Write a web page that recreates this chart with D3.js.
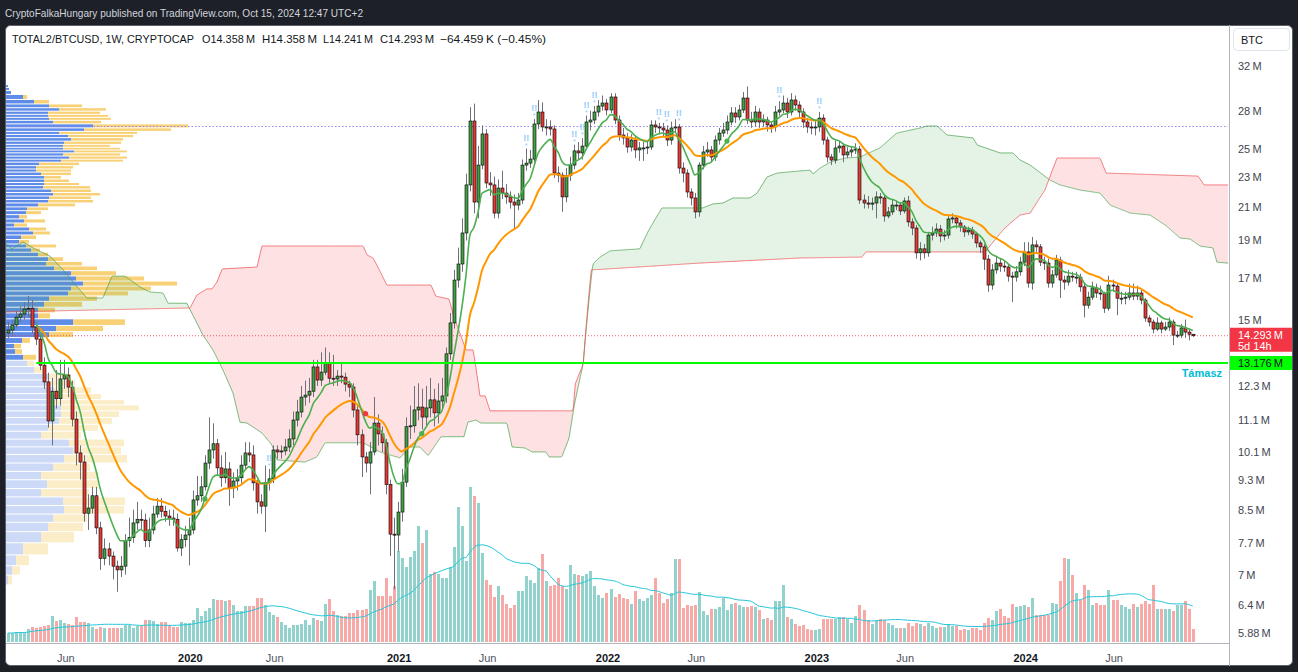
<!DOCTYPE html>
<html lang="en">
<head>
<meta charset="UTF-8">
<title>TOTAL2/BTCUSD, 1W</title>
<script src="https://cdn.jsdelivr.net/npm/d3@7"></script>
<style>
  body { margin: 0; background: #1e2028; }
  svg { display: block; font-family: "Liberation Sans", Arial, sans-serif; }
</style>
</head>
<body>
<svg id="chart" width="1298" height="672"></svg>
<script>
// weekly bars, prices in millions (M)
const firstWeek = "2019-02-18";
const firstOpen = 14.41;
const closes = [
  14.54, 14.76, 15.11, 15.25, 15.48, 15.52, 14.67, 14.15, 13.09, 12.45,
  11.08, 12.11, 11.84, 12.56, 12.71, 12.26, 11.14, 10.07, 9.80, 8.41,
  8.54, 8.86, 8.05, 7.35, 7.56, 7.40, 7.18, 7.10, 7.18, 7.75,
  7.82, 8.17, 8.26, 8.24, 7.75, 8.00, 8.39, 8.59, 8.46, 8.34,
  8.29, 8.26, 7.58, 7.77, 7.88, 8.00, 8.75, 8.86, 9.10, 9.77,
  10.16, 10.35, 9.63, 9.35, 9.60, 9.07, 9.26, 9.35, 9.71, 10.07,
  10.01, 9.21, 8.70, 8.59, 9.21, 9.32, 10.16, 10.10, 10.13, 10.25,
  10.50, 11.11, 11.38, 11.90, 11.97, 12.11, 13.02, 12.52, 12.82, 13.17,
  12.59, 12.56, 12.67, 12.63, 12.37, 12.26, 11.45, 10.63, 9.95, 9.77,
  10.10, 11.01, 10.66, 10.38, 9.16, 7.90, 7.88, 8.44, 9.23, 10.89,
  10.92, 11.45, 11.55, 11.21, 11.52, 11.80, 11.35, 11.76, 11.94, 13.54,
  14.85, 16.88, 17.71, 19.43, 22.43, 27.15, 21.31, 23.80, 26.12, 22.56,
  22.43, 20.62, 22.22, 21.89, 21.64, 21.31, 21.12, 21.44, 23.80, 23.94,
  24.23, 26.91, 27.89, 26.67, 26.67, 26.51, 23.24, 23.10, 21.64, 23.06,
  23.80, 24.83, 24.68, 25.19, 27.07, 27.23, 27.89, 28.39, 28.65, 28.06,
  29.17, 27.23, 26.04, 25.81, 25.12, 25.65, 24.90, 25.05, 25.05, 25.12,
  26.83, 26.67, 26.59, 26.43, 25.65, 26.59, 26.67, 23.59, 23.24, 21.96,
  21.57, 20.69, 23.80, 24.75, 24.90, 24.38, 25.65, 26.19, 26.43, 27.07,
  27.81, 27.48, 28.06, 29.08, 27.23, 27.07, 27.89, 27.07, 27.23, 26.83,
  26.67, 27.89, 28.06, 28.65, 27.89, 28.91, 28.48, 27.89, 27.07, 26.67,
  26.59, 26.67, 27.39, 25.65, 24.38, 24.16, 25.05, 25.19, 24.53, 24.75,
  24.90, 24.97, 21.44, 21.25, 21.18, 21.25, 21.64, 21.57, 20.44, 20.69,
  21.12, 21.12, 20.75, 21.38, 20.08, 19.72, 18.31, 18.53, 18.31, 19.31,
  19.43, 19.66, 19.26, 19.31, 20.26, 20.32, 20.02, 19.78, 19.49, 19.60,
  19.37, 18.86, 18.64, 17.97, 16.63, 17.40, 17.76, 17.60, 17.55, 17.08,
  17.03, 17.30, 17.81, 18.36, 16.73, 18.75, 18.64, 17.81, 17.76, 16.73,
  17.14, 17.92, 16.88, 16.78, 17.08, 17.03, 17.03, 16.54, 15.66, 16.04,
  16.49, 16.24, 16.20, 15.52, 16.63, 16.58, 15.99, 15.99, 16.04, 16.24,
  16.09, 16.24, 15.90, 15.07, 14.89, 14.58, 14.85, 14.58, 14.67, 14.89,
  14.32, 14.32, 14.63, 14.45, 14.358, 14.293
];
const highs = [
  14.9, 15.0, 15.4, 15.6, 15.8, 16.1, 15.9, 14.9, 14.4, 13.4,
  12.8, 12.6, 12.9, 13.3, 13.3, 13.0, 12.5, 11.4, 10.3, 10.0,
  8.9, 9.1, 9.1, 8.2, 7.8, 7.7, 7.5, 7.3, 7.4, 7.9,
  8.3, 8.5, 8.7, 8.5, 8.4, 8.3, 8.6, 8.8, 8.8, 8.6,
  8.5, 8.5, 8.4, 7.9, 8.1, 8.3, 9.0, 9.4, 9.4, 10.0,
  11.2, 11.0, 10.5, 10.0, 10.1, 9.8, 9.5, 9.6, 10.0, 10.4,
  10.4, 10.3, 9.3, 8.9, 9.7, 9.6, 10.3, 10.3, 10.3, 10.5,
  10.8, 11.4, 11.8, 12.3, 12.5, 12.6, 13.3, 13.3, 13.6, 13.8,
  13.6, 13.5, 12.9, 13.2, 12.8, 12.5, 12.4, 11.6, 10.8, 10.1,
  10.4, 11.9, 11.3, 10.9, 10.5, 9.3, 8.3, 8.7, 9.6, 11.2,
  11.6, 12.3, 12.4, 12.2, 12.3, 12.6, 12.2, 12.4, 12.6, 13.8,
  15.3, 17.4, 18.6, 20.3, 23.2, 28.3, 28.6, 25.2, 26.8, 26.5,
  23.3, 23.0, 22.8, 23.4, 22.5, 22.0, 21.8, 21.9, 24.2, 25.0,
  24.9, 27.3, 28.9, 28.7, 27.3, 27.2, 26.8, 23.7, 23.3, 23.6,
  24.4, 25.3, 25.5, 25.8, 27.6, 28.0, 28.4, 28.9, 29.3, 29.0,
  29.5, 29.5, 27.6, 26.6, 26.2, 26.1, 25.9, 25.5, 25.5, 25.5,
  27.2, 27.2, 27.0, 27.0, 26.8, 27.1, 27.3, 26.9, 24.0, 23.5,
  22.2, 21.9, 24.0, 25.2, 25.5, 25.2, 26.0, 26.6, 27.0, 27.6,
  28.3, 28.3, 28.5, 29.6, 30.1, 27.9, 28.4, 28.2, 27.7, 27.5,
  27.1, 28.4, 28.8, 29.3, 29.1, 29.5, 29.3, 28.8, 28.2, 27.4,
  27.1, 27.2, 27.9, 27.7, 25.9, 24.6, 25.6, 25.6, 25.4, 25.1,
  25.2, 25.4, 25.2, 21.8, 21.7, 21.6, 22.0, 21.9, 21.8, 21.0,
  21.5, 21.4, 21.3, 21.6, 21.7, 20.3, 19.9, 18.9, 18.8, 19.5,
  19.8, 20.0, 19.9, 19.6, 20.5, 20.6, 20.4, 20.2, 19.9, 19.8,
  19.8, 19.5, 19.0, 18.8, 18.2, 17.7, 18.1, 18.0, 17.9, 17.7,
  17.3, 17.6, 18.1, 18.9, 18.9, 19.2, 19.0, 18.8, 18.1, 18.0,
  17.4, 18.2, 18.1, 17.1, 17.4, 17.3, 17.3, 17.2, 16.7, 16.3,
  16.8, 16.7, 16.6, 16.3, 17.1, 16.9, 16.7, 16.3, 16.3, 16.7,
  16.7, 16.6, 16.4, 16.0, 15.2, 15.0, 15.1, 14.95, 14.9, 15.1,
  15.0, 14.5, 14.8, 15.0, 14.6, 14.358
];
const lows = [
  14.2, 14.3, 14.6, 14.9, 15.0, 15.1, 14.4, 13.9, 12.9, 12.2,
  10.86, 10.3, 11.5, 11.6, 12.2, 11.9, 10.9, 9.7, 9.3, 8.2,
  8.0, 8.4, 7.9, 7.1, 7.2, 7.2, 6.9, 6.65, 6.95, 7.0,
  7.6, 7.7, 8.0, 8.0, 7.6, 7.6, 7.9, 8.3, 8.3, 8.2,
  8.1, 8.1, 7.5, 7.4, 7.6, 7.2, 7.9, 8.6, 8.7, 9.0,
  9.6, 9.9, 9.4, 9.1, 9.2, 8.6, 8.8, 9.0, 9.2, 9.6,
  9.8, 9.0, 8.4, 8.4, 7.95, 9.0, 9.2, 9.9, 9.9, 10.0,
  10.1, 10.3, 10.9, 11.2, 11.6, 11.7, 11.9, 12.3, 12.3, 12.7,
  12.4, 12.3, 12.3, 12.4, 12.1, 11.9, 11.2, 10.3, 9.37, 9.5,
  8.9, 10.0, 10.3, 10.1, 8.9, 7.4, 6.7, 7.5, 8.2, 9.1,
  10.5, 10.7, 11.1, 10.8, 10.9, 11.2, 10.9, 11.0, 11.5, 11.7,
  13.3, 14.6, 16.5, 17.3, 19.0, 22.0, 20.6, 20.3, 23.5, 22.2,
  21.7, 20.3, 20.3, 21.5, 21.2, 20.9, 19.7, 20.8, 21.2, 23.4,
  23.6, 24.0, 26.5, 26.3, 26.0, 26.0, 22.9, 22.6, 20.7, 21.3,
  22.7, 23.5, 24.2, 24.2, 24.9, 26.4, 26.9, 27.5, 28.0, 27.6,
  27.8, 26.9, 25.6, 25.3, 24.7, 24.8, 24.3, 24.1, 24.1, 24.6,
  24.9, 26.2, 26.1, 25.9, 25.2, 25.3, 26.2, 23.2, 22.6, 21.6,
  21.1, 20.3, 20.4, 23.5, 24.4, 24.0, 24.1, 25.3, 25.9, 26.1,
  26.8, 27.0, 27.2, 27.8, 26.9, 26.6, 26.7, 26.6, 26.7, 26.3,
  26.2, 26.3, 27.6, 27.8, 27.4, 27.6, 28.0, 27.4, 26.6, 26.2,
  26.1, 26.0, 26.3, 25.3, 24.0, 23.8, 23.9, 24.7, 24.0, 24.3,
  24.4, 24.6, 21.2, 20.9, 20.9, 20.8, 20.3, 21.2, 20.1, 20.3,
  20.5, 20.8, 20.5, 20.6, 19.8, 19.3, 18.0, 17.9, 18.0, 18.1,
  19.0, 19.2, 18.9, 19.0, 19.1, 20.0, 19.7, 19.5, 19.2, 19.3,
  19.1, 18.6, 18.3, 17.4, 16.3, 16.4, 17.2, 17.3, 17.3, 16.8,
  15.8, 16.8, 17.1, 17.6, 16.5, 16.4, 18.3, 17.6, 17.4, 16.5,
  16.5, 17.0, 16.0, 16.4, 16.6, 16.8, 16.7, 16.3, 15.1, 15.5,
  15.9, 16.0, 15.9, 15.3, 15.4, 16.3, 15.2, 15.7, 15.7, 15.9,
  15.9, 15.9, 15.7, 14.9, 14.7, 14.4, 14.5, 14.4, 14.5, 14.5,
  13.9, 14.2, 14.2, 14.2, 14.1, 14.241
];
// weekly volume, arbitrary units
const volumes = [
  9, 9, 10, 10, 9, 13, 15, 14, 15, 16,
  17, 26, 21, 22, 19, 18, 17, 25, 20, 20,
  19, 15, 13, 15, 14, 14, 14, 14, 14, 17,
  17, 14, 16, 16, 22, 22, 21, 18, 20, 20,
  17, 15, 15, 20, 19, 19, 22, 34, 26, 31,
  34, 43, 42, 42, 41, 42, 37, 31, 31, 36,
  36, 36, 44, 44, 37, 30, 27, 25, 20, 17,
  14, 17, 17, 18, 22, 17, 24, 22, 21, 38,
  43, 31, 27, 26, 26, 29, 29, 32, 32, 33,
  52, 61, 46, 46, 64, 46, 56, 91, 84, 75,
  85, 91, 116, 99, 112, 68, 70, 68, 64, 64,
  75, 95, 135, 116, 81, 155, 146, 139, 89, 62,
  57, 45, 56, 47, 38, 34, 37, 51, 51, 66,
  62, 59, 74, 88, 61, 56, 57, 64, 56, 53,
  77, 68, 67, 66, 68, 71, 56, 47, 44, 49,
  53, 45, 48, 44, 43, 38, 51, 43, 41, 44,
  47, 64, 49, 39, 43, 49, 83, 83, 34, 37,
  36, 37, 50, 31, 27, 33, 33, 35, 44, 32,
  38, 39, 37, 35, 35, 36, 35, 32, 23, 24,
  22, 41, 41, 57, 25, 23, 18, 16, 17, 13,
  12, 12, 13, 23, 23, 23, 23, 25, 25, 23,
  19, 26, 37, 32, 22, 18, 22, 23, 22, 19,
  17, 14, 14, 14, 19, 16, 19, 18, 16, 19,
  16, 14, 15, 15, 18, 16, 16, 12, 13, 12,
  14, 14, 12, 19, 24, 22, 31, 33, 26, 24,
  38, 35, 36, 37, 35, 44, 27, 27, 27, 27,
  39, 38, 61, 84, 83, 67, 49, 42, 57, 52,
  37, 39, 37, 37, 52, 42, 42, 37, 35, 33,
  38, 35, 38, 41, 38, 57, 33, 33, 33, 33,
  31, 37, 37, 41, 33, 13
];

// Ichimoku leading spans: [week number, value]
const spanA = [
  [-2, 19.08], [1, 18.53], [3.7, 18.92], [6.2, 18.58], [10.4, 18.14], [13.7, 17.40],
  [17.2, 16.54], [19.6, 16.0], [23.6, 16.0], [25.9, 17.08], [29.1, 17.08], [32.8, 16.54],
  [35.3, 16.29], [38.6, 16.24], [39.8, 15.75], [44.5, 15.75], [46, 15.20], [48.5, 14.32],
  [51, 13.70], [53.5, 12.90], [56, 12.04], [57.7, 11.04], [59.5, 11.01], [63.2, 10.69],
  [65.7, 10.31], [66.9, 9.86], [73.9, 9.80], [76.9, 9.95], [78.9, 10.38], [88.4, 10.38],
  [92.6, 10.10], [97.6, 9.92], [100, 10.25], [102.5, 10.25], [104.6, 9.99], [107.8, 10.57],
  [113.5, 10.57], [114.5, 11.04], [116.5, 11.11], [117.7, 11.01], [124.2, 11.01],
  [125.5, 10.25], [128.7, 10.22], [130.5, 10.10], [133.9, 10.10], [134.7, 9.95],
  [137.9, 9.95], [139.7, 10.53], [141, 11.62], [143.2, 13.13], [145.6, 17.71],
  [147.4, 18.08], [149.9, 18.42], [157.3, 18.53], [159.3, 19.49], [162.8, 20.94],
  [173, 20.94], [175.5, 21.19], [178, 21.25], [180.5, 21.57], [184.7, 21.57],
  [186.5, 21.89], [189, 22.97], [191.5, 23.24], [199.7, 23.45], [200.4, 23.17],
  [202.2, 23.59], [204.7, 24.01], [208.4, 24.31], [212.1, 24.38], [217.1, 25.05],
  [221.3, 26.19], [227.1, 26.59], [228.8, 26.75], [231.3, 26.75], [233.8, 26.04],
  [240.3, 25.81], [241.3, 25.27], [247, 24.68], [250.2, 24.68], [252, 24.16],
  [254.5, 23.80], [259.4, 22.76], [261.9, 22.43], [266.9, 22.09], [271.9, 21.89],
  [274.4, 21.12], [279.4, 20.62], [284.3, 20.50], [288.1, 19.90], [291.8, 19.14],
  [294.3, 19.08], [296.8, 18.69], [300, 18.58], [301, 17.81], [306, 17.71]
];
const spanB = [
  [-2, 15.34], [45.3, 15.53], [47, 16.14], [49.5, 16.44], [50.8, 16.44], [52, 16.78],
  [53.3, 17.45], [62, 17.55], [63.2, 18.69], [88.4, 18.69], [89.4, 18.19], [90.9, 18.03],
  [94.3, 16.63], [105.3, 16.63], [106.5, 16.09], [109.8, 15.95], [111, 15.11],
  [114, 13.70], [115.8, 13.70], [117.5, 11.94], [118.8, 11.94], [120, 11.42],
  [140.7, 11.42], [141.2, 12.37], [143.2, 13.13], [145.2, 17.40], [153.1, 17.50],
  [172.3, 17.76], [197.2, 18.03], [212.6, 18.08], [213.6, 18.36], [243.3, 18.36],
  [245.7, 19.03], [248.2, 19.72], [252, 20.50], [254.5, 20.62], [258.2, 22.09],
  [261.2, 24.31], [271.9, 24.31], [273.4, 23.24], [296.3, 23.03], [297.8, 22.43],
  [306, 22.43]
];

// visible range volume profile rows (price level, up volume, down volume)
const vpPrice = [
  30.14, 29.88, 29.61, 29.17, 28.74, 28.40, 28.10, 27.82, 27.57, 27.33,
  27.08, 26.76, 26.44, 26.20, 25.97, 25.70, 25.43, 25.21, 24.99, 24.80,
  24.57, 24.33, 24.12, 23.90, 23.62, 23.43, 23.18, 22.95, 22.71, 22.48,
  22.29, 22.02, 21.83, 21.57, 21.38, 21.13, 20.88, 20.66, 20.39, 20.14,
  19.90, 19.66, 19.43, 19.20, 18.91, 18.69, 18.47, 18.22, 17.98, 17.71,
  17.50, 17.22, 16.96, 16.70, 16.46, 16.22, 15.98, 15.70, 15.43, 15.18,
  14.89, 14.59, 14.35, 14.08, 13.86, 13.64, 13.40, 13.17, 12.90, 12.65,
  12.40, 12.15, 11.90, 11.72, 11.53, 11.31, 11.08, 10.86, 10.63, 10.36,
  10.15, 9.90, 9.64, 9.42, 9.17, 8.94, 8.72, 8.49, 8.29, 8.08,
  7.84, 7.56, 7.29, 7.09, 6.89
];
const vpUp = [
  2, 3, 5, 17, 28, 43, 53, 42, 42, 43,
  47, 87, 78, 53, 62, 65, 58, 57, 57, 68,
  57, 63, 55, 33, 30, 30, 35, 38, 38, 38,
  37, 45, 47, 43, 42, 32, 21, 20, 13, 18,
  8, 23, 27, 15, 13, 20, 25, 32, 42, 40,
  48, 65, 70, 77, 65, 62, 43, 38, 32, 32,
  67, 50, 43, 16, 8, 9, 17, 21, 28, 42,
  42, 48, 52, 48, 55, 55, 53, 42, 35, 63,
  67, 58, 47, 35, 41, 35, 57, 58, 47, 42,
  35, 17, 10, 6, 2
];
const vpDown = [
  0, 0, 0, 4, 15, 33, 47, 52, 60, 62,
  48, 95, 87, 78, 65, 52, 57, 47, 57, 53,
  57, 58, 62, 40, 37, 35, 30, 17, 25, 35,
  47, 40, 47, 42, 45, 37, 21, 15, 8, 21,
  13, 17, 17, 15, 10, 30, 9, 10, 15, 36,
  43, 45, 68, 94, 80, 60, 48, 38, 17, 12,
  52, 47, 24, 8, 7, 7, 13, 7, 10, 20,
  27, 37, 43, 70, 78, 58, 53, 50, 40, 55,
  48, 63, 37, 57, 51, 48, 62, 60, 34, 35,
  33, 25, 13, 8, 4
];
const valueArea = [13.3, 30.2];

const yTicks = [32, 28, 25, 23, 21, 19, 17, 15, 12.3, 11.1, 10.1, 9.3, 8.5, 7.7, 7, 6.4, 5.88];
const lastPrice = 14.293;
const supportLevel = 13.176;
const supportFromWeek = 7;
const alertWeeks = [65, 129, 131, 141, 143, 144, 146, 162, 164, 167, 192, 202];
const crossMarks = [[49, "up"], [89, "down"], [103, "up"], [179, "up"]];

// ---------------------------------------------------------------
const W = 1298, H = 672;
const plot = { left: 6, right: 1228, top: 25, bottom: 642 };
const svg = d3.select("#chart");

const start = d3.utcParse("%Y-%m-%d")(firstWeek);
const weekDate = w => new Date(start.getTime() + w * 7 * 864e5);
const bars = closes.map((c, i) => {
  const open = i ? closes[i - 1] : firstOpen;
  return {
    i, date: weekDate(i), open, close: c,
    high: Math.max(highs[i], open, c), low: Math.min(lows[i], open, c),
    volume: volumes[i], up: c >= open
  };
});
const last = bars[bars.length - 1];

const x = d3.scaleUtc().domain([weekDate(0), weekDate(295)]).range([8.1, 8.1 + 295 * 4.016]);
const y = d3.scaleLog().domain([5.88, 32]).range([633, 66]);
const yVol = d3.scaleLinear().domain([0, 160]).range([642, 482]);

// frame
svg.append("rect").attr("width", W).attr("height", H).attr("fill", "#1e2028");
svg.append("text").attr("x", 5).attr("y", 17).attr("fill", "#d1d4dc")
  .attr("font-size", 11).attr("textLength", 358).attr("lengthAdjust", "spacingAndGlyphs")
  .text("CryptoFalkaHungary published on TradingView.com, Oct 15, 2024 12:47 UTC+2");
svg.append("rect").attr("x", 5.5).attr("y", 25.5).attr("width", 1287).attr("height", 640)
  .attr("rx", 5).attr("fill", "#fff").attr("stroke", "#5d606b");

svg.append("clipPath").attr("id", "plotClip").append("rect")
  .attr("x", plot.left).attr("y", plot.top)
  .attr("width", plot.right - plot.left).attr("height", plot.bottom - plot.top);
const g = svg.append("g").attr("clip-path", "url(#plotClip)");

// volume profile
const vpX = d3.scaleLinear().domain([0, 182]).range([6, 188]);
const vpRows = vpPrice.map((p, k) => {
  const n = vpPrice.length;
  const hi = k === 0 ? p + (p - vpPrice[1]) / 2 : (p + vpPrice[k - 1]) / 2;
  const lo = k === n - 1 ? p - (vpPrice[k - 1] - p) / 2 : (p + vpPrice[k + 1]) / 2;
  return { p, hi, lo, up: vpUp[k], down: vpDown[k], inVA: p >= valueArea[0] && p <= valueArea[1] };
});
const vpG = g.append("g");
vpRows.forEach(r => {
  const top = y(r.hi) + 0.5, h = Math.max(1, y(r.lo) - y(r.hi) - 1);
  vpG.append("rect").attr("x", vpX(0)).attr("y", top).attr("height", h)
    .attr("width", vpX(r.up) - vpX(0))
    .attr("fill", r.inVA ? "rgba(66,120,228,0.85)" : "rgba(66,120,228,0.27)");
  vpG.append("rect").attr("x", vpX(r.up)).attr("y", top).attr("height", h)
    .attr("width", vpX(r.up + r.down) - vpX(r.up))
    .attr("fill", r.inVA ? "rgba(245,190,60,0.7)" : "rgba(245,190,60,0.28)");
});
const poc = vpRows.reduce((a, b) => (b.up + b.down > a.up + a.down ? b : a));
g.append("line").attr("x1", plot.left).attr("x2", plot.right)
  .attr("y1", Math.round(y(poc.p)) + 0.5).attr("y2", Math.round(y(poc.p)) + 0.5)
  .attr("stroke", "#9787f0").attr("stroke-dasharray", "1.5,2");

// ichimoku cloud
const interpA = d3.scaleLinear().domain(spanA.map(d => d[0])).range(spanA.map(d => d[1])).clamp(true);
const interpB = d3.scaleLinear().domain(spanB.map(d => d[0])).range(spanB.map(d => d[1])).clamp(true);
const cloud = d3.range(-2, 306.01, 0.25).map(w => ({ date: weekDate(w), a: interpA(w), b: interpB(w) }));
const defs = svg.append("defs");
defs.append("clipPath").attr("id", "aboveB").append("path")
  .attr("d", d3.area().x(d => x(d.date)).y0(0).y1(d => y(d.b))(cloud));
defs.append("clipPath").attr("id", "aboveA").append("path")
  .attr("d", d3.area().x(d => x(d.date)).y0(0).y1(d => y(d.a))(cloud));
const between = d3.area().x(d => x(d.date)).y0(d => y(d.a)).y1(d => y(d.b));
g.append("g").attr("clip-path", "url(#aboveB)").append("path").datum(cloud)
  .attr("d", between).attr("fill", "rgba(76,175,80,0.15)");
g.append("g").attr("clip-path", "url(#aboveA)").append("path").datum(cloud)
  .attr("d", between).attr("fill", "rgba(242,54,69,0.15)");
g.append("path").datum(cloud).attr("fill", "none").attr("stroke", "rgba(67,160,71,0.7)")
  .attr("d", d3.line().x(d => x(d.date)).y(d => y(d.a)));
g.append("path").datum(cloud).attr("fill", "none").attr("stroke", "rgba(242,84,90,0.75)")
  .attr("d", d3.line().x(d => x(d.date)).y(d => y(d.b)));

// last price line
g.append("line").attr("x1", plot.left).attr("x2", plot.right)
  .attr("y1", y(lastPrice)).attr("y2", y(lastPrice))
  .attr("stroke", "#f23645").attr("stroke-width", 0.8).attr("stroke-dasharray", "1,2");

// volume
g.append("g").selectAll("rect").data(bars).join("rect")
  .attr("x", d => Math.round(x(d.date)) - 1).attr("width", 3)
  .attr("y", d => yVol(d.volume)).attr("height", d => yVol(0) - yVol(d.volume))
  .attr("fill", d => d.up ? "rgba(38,166,154,0.5)" : "rgba(239,83,80,0.5)");
const volMa = bars.map((b, i) => {
  const s = volumes.slice(Math.max(0, i - 19), i + 1);
  return { date: b.date, v: d3.mean(s) };
});
g.append("path").datum(volMa).attr("fill", "none").attr("stroke", "#26c6da").attr("stroke-width", 1)
  .attr("d", d3.line().x(d => x(d.date)).y(d => yVol(d.v)).curve(d3.curveMonotoneX));

// candles
const cg = g.append("g");
cg.selectAll("line").data(bars).join("line")
  .attr("x1", d => Math.round(x(d.date)) + 0.5).attr("x2", d => Math.round(x(d.date)) + 0.5)
  .attr("y1", d => y(d.high)).attr("y2", d => y(d.low))
  .attr("stroke", "#6f7079").attr("stroke-width", 1);
cg.selectAll("rect").data(bars).join("rect")
  .attr("x", d => Math.round(x(d.date)) - 1).attr("width", 3)
  .attr("y", d => y(Math.max(d.open, d.close)))
  .attr("height", d => Math.max(1, y(Math.min(d.open, d.close)) - y(Math.max(d.open, d.close))))
  .attr("fill", d => d.up ? "#43a047" : "#e53935")
  .attr("stroke", "#000").attr("stroke-width", 0.6);

// moving averages
function ema(values, n) {
  const k = 2 / (n + 1);
  let e = values[0];
  return values.map(v => (e = e + k * (v - e)));
}
const fast = ema(closes, 8), slow = ema(closes, 21);
const maLine = d3.line().x(d => x(d.date)).y(d => y(d.v)).curve(d3.curveMonotoneX);
const fastPts = bars.map((b, i) => ({ date: b.date, v: fast[i] })).slice(7);
const slowPts = bars.map((b, i) => ({ date: b.date, v: slow[i] })).slice(7);
g.append("path").datum(slowPts).attr("fill", "none").attr("stroke", "#ff9800")
  .attr("stroke-width", 2).attr("d", maLine);
g.append("path").datum(fastPts).attr("fill", "none").attr("stroke", "#4caf50")
  .attr("stroke-width", 1.6).attr("d", maLine);
crossMarks.forEach(([w, t]) => {
  g.append("circle").attr("cx", x(weekDate(w))).attr("cy", y(t === "up" ? fast[w] : slow[w]))
    .attr("r", 2.6).attr("fill", t === "up" ? "#4caf50" : "#f23645");
});

// support line
g.append("line").attr("x1", x(weekDate(supportFromWeek))).attr("x2", plot.right)
  .attr("y1", y(supportLevel)).attr("y2", y(supportLevel))
  .attr("stroke", "#00ff00").attr("stroke-width", 2);
g.append("text").attr("x", 1222).attr("y", y(supportLevel) + 14).attr("text-anchor", "end")
  .attr("fill", "#00bcd4").attr("font-size", 11).attr("font-weight", "bold").text("Támasz");

// alert markers
alertWeeks.forEach(w => {
  const b = bars[w];
  g.append("text").attr("x", x(b.date)).attr("y", y(b.high) - 8).attr("text-anchor", "middle")
    .attr("fill", "#90caf9").attr("font-size", 9).attr("font-weight", "bold").text("!!");
  g.append("text").attr("x", x(b.date)).attr("y", y(b.high) - 1).attr("text-anchor", "middle")
    .attr("fill", "#90caf9").attr("font-size", 7).text("*");
});

// axes
svg.append("line").attr("x1", plot.left).attr("x2", 1229).attr("y1", 643.5).attr("y2", 643.5)
  .attr("stroke", "#b2b5be");
svg.append("line").attr("x1", 1229.5).attr("x2", 1229.5).attr("y1", 25).attr("y2", 666)
  .attr("stroke", "#b2b5be");

const tickDates = bars.filter((b, i) => i > 0 &&
  b.date.getUTCMonth() !== bars[i - 1].date.getUTCMonth() &&
  (b.date.getUTCMonth() === 0 || b.date.getUTCMonth() === 5)).map(b => b.date);
const xAxis = svg.append("g").attr("transform", "translate(-3,643)")
  .call(d3.axisBottom(x).tickValues(tickDates).tickSize(0)
    .tickFormat(d => d.getUTCMonth() === 0 ? d.getUTCFullYear() : "Jun"));
xAxis.select(".domain").remove();
xAxis.selectAll("text").attr("y", 19).attr("dy", null).attr("font-size", 11)
  .attr("font-family", "Liberation Sans, Arial, sans-serif")
  .attr("fill", d => d.getUTCMonth() === 0 ? "#131722" : "#50535e")
  .attr("font-weight", d => d.getUTCMonth() === 0 ? "bold" : "normal");

const yAxis = svg.append("g").attr("transform", "translate(1229,0)")
  .call(d3.axisRight(y).tickValues(yTicks).tickSize(0).tickPadding(9)
    .tickFormat(d => `${d}\u2009M`));
yAxis.select(".domain").remove();
yAxis.selectAll("text").attr("font-size", 11).attr("fill", "#434651")
  .attr("font-family", "Liberation Sans, Arial, sans-serif");

svg.append("rect").attr("x", 1233.5).attr("y", 28.5).attr("width", 56).attr("height", 22)
  .attr("rx", 4).attr("fill", "#fff").attr("stroke", "#e0e3eb");
svg.append("text").attr("x", 1241).attr("y", 44).attr("font-size", 11).attr("fill", "#131722").text("BTC");

// price labels
const fmt = d3.format(".3f");
svg.append("rect").attr("x", 1230).attr("y", y(lastPrice) - 8).attr("width", 62).attr("height", 24)
  .attr("fill", "#f23645");
svg.append("text").attr("x", 1238).attr("y", y(lastPrice) + 3.5).attr("font-size", 11)
  .attr("fill", "#fff").text(`${fmt(lastPrice)}\u2009M`);
svg.append("text").attr("x", 1238).attr("y", y(lastPrice) + 14).attr("font-size", 11)
  .attr("fill", "#fff").text("5d 14h");
svg.append("rect").attr("x", 1230).attr("y", y(supportLevel) - 7).attr("width", 62).attr("height", 14)
  .attr("fill", "#00ff00");
svg.append("text").attr("x", 1238).attr("y", y(supportLevel) + 4).attr("font-size", 11)
  .attr("fill", "#131722").text(`${fmt(supportLevel)}\u2009M`);

// legend
const legendItems = [
  { text: "TOTAL2/BTCUSD, 1W, CRYPTOCAP", x: 12, len: 182 },
  { text: `O${fmt(last.open)}\u2009M`, x: 202, len: 53 },
  { text: `H${fmt(last.high)}\u2009M`, x: 262, len: 55 },
  { text: `L${fmt(last.low)}\u2009M`, x: 323, len: 50 },
  { text: `C${fmt(last.close)}\u2009M`, x: 380, len: 54 },
  { text: "\u221264.459\u2009K (\u22120.45%)", x: 440, len: 106 }
];
svg.append("g").selectAll("text").data(legendItems).join("text")
  .attr("x", d => d.x).attr("y", 43).attr("font-size", 11).attr("fill", "#131722")
  .attr("textLength", d => d.len).attr("lengthAdjust", "spacingAndGlyphs")
  .text(d => d.text);
</script>
</body>
</html>
